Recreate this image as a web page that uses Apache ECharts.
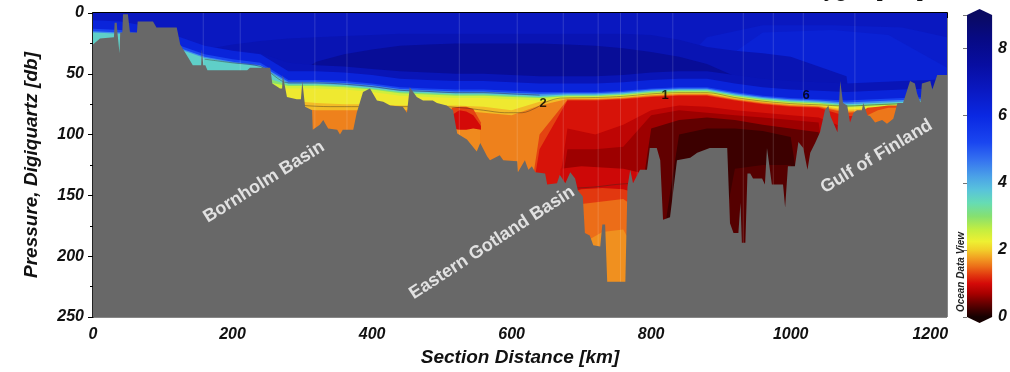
<!DOCTYPE html>
<html>
<head>
<meta charset="utf-8"/>
<title>Oxygen section</title>
<script src="https://cdn.jsdelivr.net/npm/echarts@6/dist/echarts.min.js"></script>
<style>
    html, body { margin: 0; padding: 0; background: #fff; }
    #main { width: 1010px; height: 372px; }
</style>
</head>
<body>
<div id="main"></div>
<script>
// ---- data ----
// station distances [km] where the isoline depths were read
var stations = [0, 40, 80, 120, 160, 200, 240, 280, 320, 360, 400, 440, 480, 520, 560, 600,
                640, 680, 720, 760, 800, 840, 880, 920, 960, 1000, 1040, 1080, 1120, 1160, 1200, 1224];

// top depth [db] of each oxygen class (ml/l); 250 = class absent at that station
var top68 = [0,0,0,0,0,0,0,0,0,0,0,0,0,0,0,0,0,0,0,0,0,0,0,0,0,0,0,0,0,0,0,0];
var top75 = [250,250,250,250,30,26,23,21,20,19,18,17,17,17,17,17,17,17,17,17,18,22,28,31,33,36,44,52,250,250,250,250];
var top83 = [250,250,250,250,250,250,250,55,40,34,30,27,26,25,25,25,25,26,27,29,32,36,42,52,60,250,250,250,250,250,250,250];
var top73 = [12,13,16,22,28,30,33,41,43,44,46,48,49,50,50,51,52,52,52,51,49,48,48,51,54,56,57,58,57,56,55,54];
var top62 = [6,7,11,19,27,31,34,48,48,49,51,54,55,56,56,57,58,58,58,57,55,54,54,58,61,63,64,65,64,63,62,61];
var top52 = [13,14,18,26,34,38,41,55,55,56,58,61,62,63,63,64,65,65,65,64,62,61,61,65,68,70,71,72,71,70,69,68];
var top44 = [15,16,20,28,36,40,43,56.5,56.5,57.5,59.5,62.5,63.5,64.5,64.5,65.5,66.5,66,66,65,63,62,62,66,69,71,72,73.5,72.5,71.5,70.5,69.5];
var top36 = [16,17,21,29,37,41,44,58,58,59,61,64,65,66,66,67,68,67,67,66,64,63,63,67,70,72,73,75,74,73,72,71];
var top30 = [40,40,40,45,52,52,52,59,59,60,62,65,66,67,67,68,69,67.8,67.8,66.8,64.8,63.8,63.8,67.8,70.8,72.8,73.8,76,75,74,73,72];
var top25 = [45,45,45,50,56,56,56,60,60,61,63,66,67,68,68,69,70,68.5,68.5,67.5,65.5,64.5,64.5,68.5,71.5,73.5,74.5,77,76,75,74,73];
var top22 = [50,50,50,55,60,60,60,62,62,63,65,68,69,70,70,71,72,69.2,69.2,68.2,66.2,65.2,65.2,69.2,72.2,74.2,75.2,78,77,76,75,74];
var top19 = [55,55,55,60,62,62,62,72,74,75,75,76,76,76,77,80,73,70,70,69,67,66,66,70,73,75,76,79.5,78.5,77.5,76.5,75.5];
var top16 = [60,60,60,65,65,65,65,78,80,80,80,80,80,80,82,84,76,70.7,70.7,69.7,67.7,66.7,66.7,70.7,73.7,75.7,76.7,81,80,79,78,77];
var top13 = [250,250,250,250,250,250,250,250,250,250,250,250,250,250,250,250,100,71.4,71.4,70.4,68.4,67.4,67.4,71.4,74.4,76.4,77.4,82,81,80,79,78];
var top105 = [250,250,250,250,250,250,250,250,250,250,250,250,250,250,250,250,112,72,72,71,69,68,68,72,75,77,78,85,84,83,82,81];
var top08 = [250,250,250,250,250,250,250,250,250,250,250,250,250,250,250,250,250,95,100,92,80,76,77,80,82,84,86,95,250,250,250,250];
var top055 = [250,250,250,250,250,250,250,250,250,250,250,250,250,250,250,250,250,112,112,110,84,80,82,84,86,88,90,250,250,250,250,250];
var top035 = [250,250,250,250,250,250,250,250,250,250,250,250,250,250,250,250,250,250,250,250,95,88,86,88,92,95,98,250,250,250,250,250];
var top018 = [250,250,250,250,250,250,250,250,250,250,250,250,250,250,250,250,250,250,250,250,250,100,95,95,97,102,250,250,250,250,250,250];
var top030 = [250,250,250,250,250,250,250,250,250,250,250,250,250,250,250,250,250,250,250,250,250,250,250,128,125,125,250,250,250,250,250,250];

// brighter surface water in the east
var eastOuterKm = [820, 880, 960, 1060, 1160, 1224];
var eastOuter = [55, 20, 10, 10, 12, 20];
var eastInnerKm = [900, 960, 1060, 1140, 1224];
var eastInner = [40, 16, 14, 18, 45];

// Bornholm Basin low-oxygen patch
var bornholmKm = [514, 525, 535, 545, 556];
var bornholm13 = [78, 77, 77, 79, 90];
var bornholm105 = [84, 80, 81, 84, 93];
var bornholm16 = [95, 96, 96, 95, 96];

// Gotland Deep inflow water below the anoxic layer
var gotlandKm = [670, 700, 730, 760, 790];
var gotland09 = [128, 126, 127, 128, 132];
var gotland125 = [150, 145, 144, 145, 150];
var gotland15 = [165, 157, 155, 153, 165];
var gotland17 = [210, 190, 180, 178, 210];

// Gulf of Finland entrance
var finlandKm = [1095, 1110, 1125, 1140, 1155, 1170];
var finland13 = [84, 78, 77, 76, 76, 80];
var finland16 = [92, 84, 80, 78, 78, 84];

// bottom topography along the section
var bathyKm = [0,10,30,31,34,35,37,38,39,42,43,50,53,63,64,86,91,120,122,125,139,143,155,156,158,161,164,221,225,254,257,268,271,272,274,278,292,298,300,301,304,314,315,325,330,337,350,354,358,373,378,387,397,407,416,426,444,450,454,464,473,487,493,507,516,522,536,550,555,565,569,583,588,608,609,619,624,629,634,648,651,665,669,677,684,691,695,702,705,712,717,727,730,734,737,763,766,770,774,784,794,798,808,813,817,827,837,856,866,884,909,913,918,925,928,930,935,938,942,946,959,963,966,968,973,989,992,996,1006,1011,1018,1024,1028,1035,1042,1049,1054,1057,1067,1071,1075,1081,1085,1090,1095,1102,1104,1110,1114,1121,1131,1138,1147,1153,1161,1171,1178,1181,1186,1188,1200,1203,1210,1218,1224];
var bathyDb = [26,21,20,8,8,16,16,33,16,16,1,1,16,16,7,7,12,12,11,26,39,43,43,30,43,43,47,47,45,45,58,62,62,51,51,69,71,71,56,56,77,80,96,92,88,95,96,100,96,96,82,65,62,72,73,76,77,82,61,69,72,72,74,76,80,99,104,114,107,118,121,117,121,122,131,121,129,126,131,132,141,140,133,140,131,136,146,151,181,183,191,192,174,174,221,221,143,129,140,129,129,111,111,121,170,168,121,119,115,111,111,173,181,181,156,189,189,132,132,136,136,141,111,111,141,141,160,126,126,106,111,129,115,107,98,80,76,85,98,56,74,76,90,82,80,80,74,84,85,90,88,91,87,74,74,56,58,66,74,58,56,63,51,51,51];

// contour lines
var contour2Km = [270,300,340,380,420,460,500,530,560,590,615,635,650,670,720,760,800,840,880,920,960,1000,1040,1080,1120,1160,1224];
var contour2Db = [74,76,77,77,77,77,77,78,80,82,82,78,73,70,69.5,68.5,66.5,65.5,65.5,69.5,72.5,74.5,75.5,76.5,75.5,74.5,72.5];
var contourTopKm = [160,200,240,280,320,360,400,440,480,520,560,600,640];
var contourTopDb = [38,41,44,57.5,57.5,58.5,60.5,63.5,64.5,65.5,65.5,66.5,67.5];
var contourDeepKm = [690, 720, 750, 775];
var contourDeepDb = [144, 143, 141, 140];
var contourLabels = ['2', '1', '6'];
var contourLabelKm = [645, 820, 1022];
var contourLabelDb = [74, 68, 68];

// CTD station positions (thin white lines)
var stationLinesKm = [158, 211, 318, 364, 525, 608, 674, 724, 756, 780, 831, 932, 975, 1018, 1092];

// basin names
var basinNames = ['Bornholm Basin', 'Eastern Gotland Basin', 'Gulf of Finland'];
var basinKm = [245, 572, 1123];
var basinDb = [139, 189, 118];
var basinAngle = [32, 33, 31];

// colour bar ticks
var barTicks = [0, 2, 4, 6, 8];

// ---- colour map (ODV style) ----
var cmapStops = [
    [0.00, '#150000'], [0.20, '#3c0000'], [0.45, '#700000'], [0.70, '#a80000'],
    [1.00, '#d40a08'], [1.25, '#e2380f'], [1.50, '#ec6d18'], [1.75, '#f29e22'],
    [2.00, '#f2cf2a'], [2.25, '#eef032'], [2.60, '#c4ee40'], [3.00, '#86e070'],
    [3.40, '#66dcb4'], [3.80, '#58c2dc'], [4.20, '#4aa0e8'], [4.70, '#3470f0'],
    [5.20, '#1a46f0'], [6.00, '#0a28e2'], [6.80, '#0a18c0'], [7.50, '#080ea2'],
    [8.30, '#070a84'], [9.00, '#0a0a62']
];

function hexToRgb(h) {
    return [parseInt(h.substr(1, 2), 16), parseInt(h.substr(3, 2), 16), parseInt(h.substr(5, 2), 16)];
}

function cmap(v) {
    if (v <= cmapStops[0][0]) return cmapStops[0][1];
    for (var i = 1; i < cmapStops.length; i++) {
        if (v <= cmapStops[i][0]) {
            var a = cmapStops[i - 1], b = cmapStops[i];
            var t = (v - a[0]) / (b[0] - a[0]);
            var ca = hexToRgb(a[1]), cb = hexToRgb(b[1]);
            var c = ca.map(function (x, k) { return Math.round(x + (cb[k] - x) * t); });
            return 'rgb(' + c.join(',') + ')';
        }
    }
    return cmapStops[cmapStops.length - 1][1];
}

function pairs(xs, ys) {
    return xs.map(function (x, i) { return [x, ys[i]]; });
}

// one filled class: fills from its top line down to the bottom of the plot
function layer(v, xs, tops) {
    return {
        type: 'line', xAxisIndex: 0, yAxisIndex: 0, z: 1,
        data: pairs(xs, tops), symbol: 'none', silent: true,
        lineStyle: {width: 0, opacity: 0},
        areaStyle: {color: cmap(v), opacity: 1, origin: 'end'}
    };
}

function contour(xs, ys) {
    return {
        type: 'line', xAxisIndex: 0, yAxisIndex: 0, z: 2,
        data: pairs(xs, ys), symbol: 'none', silent: true, smooth: 0.3,
        lineStyle: {width: 0.8, color: 'rgba(50,40,30,0.5)'}
    };
}

var layers = [
    [6.8, stations, top68], [6.55, eastOuterKm, eastOuter], [6.3, eastInnerKm, eastInner],
    [7.1, stations, top75], [7.8, stations, top83], [7.0, stations, top73],
    [6.2, stations, top62], [5.2, stations, top52], [4.4, stations, top44], [3.6, stations, top36],
    [3.0, stations, top30], [2.5, stations, top25], [2.2, stations, top22], [1.9, stations, top19],
    [1.6, stations, top16], [1.3, stations, top13], [1.05, stations, top105], [0.85, stations, top08],
    [0.65, stations, top055], [0.38, stations, top035], [0.2, stations, top018], [0.32, stations, top030],
    [1.3, bornholmKm, bornholm13], [1.0, bornholmKm, bornholm105], [1.65, bornholmKm, bornholm16],
    [0.95, gotlandKm, gotland09], [1.25, gotlandKm, gotland125], [1.5, gotlandKm, gotland15], [1.68, gotlandKm, gotland17],
    [1.3, finlandKm, finland13], [1.55, finlandKm, finland16]
];

var series = layers.map(function (l) { return layer(l[0], l[1], l[2]); });

series.push({
    type: 'custom', xAxisIndex: 0, yAxisIndex: 0, z: 2, silent: true,
    data: stationLinesKm.map(function (x) { return [x, 0]; }),
    encode: {x: 0, y: 1},
    renderItem: function (params, api) {
        var p0 = api.coord([api.value(0), 0]);
        var p1 = api.coord([api.value(0), 250]);
        return {type: 'line', shape: {x1: p0[0], y1: p0[1], x2: p1[0], y2: p1[1]},
            style: {stroke: 'rgba(255,255,255,0.2)', lineWidth: 0.8}};
    }
});

series.push(contour(contour2Km, contour2Db));
series.push(contour(contourTopKm, contourTopDb));
series.push(contour(contourDeepKm, contourDeepDb));

// grey bottom mask
series.push({
    type: 'line', xAxisIndex: 0, yAxisIndex: 0, z: 3, silent: true,
    data: pairs(bathyKm, bathyDb), symbol: 'none',
    lineStyle: {width: 0, opacity: 0},
    areaStyle: {color: '#686868', opacity: 1, origin: 'end'}
});

series.push({
    type: 'scatter', xAxisIndex: 0, yAxisIndex: 0, z: 4, silent: true,
    symbolSize: 1, itemStyle: {color: 'transparent'},
    data: contourLabels.map(function (n, i) { return {name: n, value: [contourLabelKm[i], contourLabelDb[i]]}; }),
    label: {show: true, position: 'inside', formatter: '{b}', color: '#000',
        fontSize: 13, fontWeight: 'bold', fontFamily: 'Liberation Sans'}
});

series.push({
    type: 'scatter', xAxisIndex: 0, yAxisIndex: 0, z: 4, silent: true,
    symbolSize: 1, itemStyle: {color: 'transparent'},
    data: basinNames.map(function (n, i) {
        return {name: n, value: [basinKm[i], basinDb[i]], label: {rotate: basinAngle[i]}};
    }),
    label: {show: true, position: 'inside', formatter: '{b}', color: '#fff',
        fontSize: 18, fontWeight: 'bold', fontFamily: 'Liberation Sans'}
});

// colour bar with end caps
series.push({
    type: 'custom', xAxisIndex: 1, yAxisIndex: 1, z: 2, silent: true, clip: false,
    data: [[0, 9]],
    encode: {x: 0, y: 1},
    renderItem: function (params, api) {
        var bl = api.coord([0, 0]), tr = api.coord([1, 9]);
        var cx = (bl[0] + tr[0]) / 2;
        var stops = cmapStops.map(function (s) { return {offset: s[0] / 9, color: s[1]}; });
        return {
            type: 'polygon',
            shape: {points: [[cx, bl[1] + 6], [bl[0], bl[1]], [bl[0], tr[1]], [cx, tr[1] - 6], [tr[0], tr[1]], [tr[0], bl[1]]]},
            style: {fill: new echarts.graphic.LinearGradient(0, bl[1], 0, tr[1], stops, true)}
        };
    }
});

var font = 'Liberation Sans';
var chart = echarts.init(document.getElementById('main'));
chart.setOption({
    animation: false,
    backgroundColor: '#fff',
    grid: [
        {left: 93, right: 63, top: 13, bottom: 55, show: true, borderColor: '#111', borderWidth: 1, backgroundColor: 'transparent'},
        {left: 967, width: 26, top: 15, bottom: 55}
    ],
    xAxis: [{
        type: 'value', gridIndex: 0, min: 0, max: 1224, interval: 200,
        name: 'Section Distance [km]', nameLocation: 'middle', nameGap: 29,
        nameTextStyle: {fontSize: 19, fontWeight: 'bold', fontStyle: 'italic', color: '#111', fontFamily: font},
        axisLine: {lineStyle: {color: '#000', width: 2}},
        axisTick: {length: 5, lineStyle: {color: '#000'}},
        minorTick: {show: true, splitNumber: 2, length: 3, lineStyle: {color: '#000'}},
        splitLine: {show: false},
        axisLabel: {showMaxLabel: false, margin: 10, fontSize: 16, fontWeight: 'bold', fontStyle: 'italic', color: '#111', fontFamily: font,
            formatter: function (v) { return String(v); }}
    }, {
        type: 'value', gridIndex: 1, min: 0, max: 1, show: false
    }],
    yAxis: [{
        type: 'value', gridIndex: 0, min: 0, max: 250, interval: 50, inverse: true,
        name: 'Pressure, Digiquartz [db]', nameLocation: 'middle', nameGap: 52,
        nameTextStyle: {fontSize: 19, fontWeight: 'bold', fontStyle: 'italic', color: '#111', fontFamily: font},
        axisLine: {lineStyle: {color: '#000', width: 1.5}},
        axisTick: {length: 5, lineStyle: {color: '#000'}},
        minorTick: {show: true, splitNumber: 2, length: 3, lineStyle: {color: '#000'}},
        splitLine: {show: false},
        axisLabel: {margin: 9, fontSize: 16, fontWeight: 'bold', fontStyle: 'italic', color: '#111', fontFamily: font}
    }, {
        type: 'value', gridIndex: 1, min: 0, max: 9, interval: 2, position: 'right',
        axisLine: {show: false},
        axisTick: {inside: true, length: 4, lineStyle: {color: 'rgba(60,60,60,0.7)'}},
        splitLine: {show: false},
        axisLabel: {margin: 6, fontSize: 16, fontWeight: 'bold', fontStyle: 'italic', color: '#111', fontFamily: font,
            formatter: function (v) { return barTicks.indexOf(v) >= 0 ? String(v) : ''; }}
    }],
    graphic: [
        {type: 'text', x: 961, y: 272, rotation: Math.PI / 2,
            style: {text: 'Ocean Data View', font: 'italic bold 10px "Liberation Sans"', fill: '#222',
                align: 'center', verticalAlign: 'middle', textAlign: 'center', textVerticalAlign: 'middle'}},
        {type: 'text', x: 812, y: 1,
            style: {text: 'Dissolved Oxygen [ml/l]', font: 'italic bold 20px "Liberation Sans"', fill: '#111',
                align: 'center', verticalAlign: 'bottom', textAlign: 'center', textVerticalAlign: 'bottom'}}
    ],
    series: series
});
</script>
</body>
</html>
